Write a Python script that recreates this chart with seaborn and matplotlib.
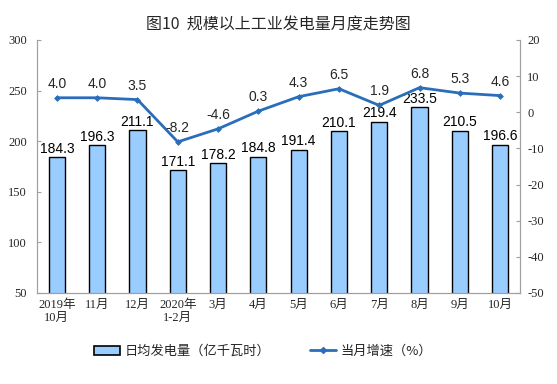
import pandas as pd
import matplotlib.pyplot as plt
import seaborn as sns
from matplotlib.patches import Patch
from matplotlib.lines import Line2D

months = ['2019年\n10月', '11月', '12月', '2020年\n1-2月', '3月', '4月', '5月',
          '6月', '7月', '8月', '9月', '10月']
daily_output = [184.3, 196.3, 211.1, 171.1, 178.2, 184.8, 191.4, 210.1, 219.4, 233.5, 210.5, 196.6]
growth = [4.0, 4.0, 3.5, -8.2, -4.6, 0.3, 4.3, 6.5, 1.9, 6.8, 5.3, 4.6]
left_ticks = [50, 100, 150, 200, 250, 300]
right_ticks = [-50, -40, -30, -20, -10, 0, 10, 20]

bar_color = '#99CCFF'
line_color = '#2A6EBB'

sns.set_style('white')
plt.rcParams['font.family'] = ['Liberation Sans', 'Noto Sans CJK SC']
plt.rcParams['axes.unicode_minus'] = False
cjk = ['Noto Sans CJK SC', 'DejaVu Sans']
serif = ['Liberation Serif', 'Noto Sans CJK SC']

df = pd.DataFrame({'month': months, 'output': daily_output, 'growth': growth})

fig = plt.figure(figsize=(5.57, 3.84), dpi=100)
ax = fig.add_axes([0.066, 0.237, 0.868, 0.659])

sns.barplot(data=df, x='month', y='output', color=bar_color, width=0.4,
            edgecolor='black', linewidth=1.0, saturation=1, ax=ax, zorder=2)
ax.set_ylim(50, 300)
ax.set_yticks(left_ticks)
ax.set_xlabel('')
ax.set_ylabel('')
for c in ax.containers:
    ax.bar_label(c, fmt='%.1f', padding=1, fontsize=10, color='black')

ax2 = ax.twinx()
sns.lineplot(data=df, x='month', y='growth', color=line_color, marker='D',
             markersize=3.5, markeredgewidth=0, linewidth=2, ax=ax2, sort=False, zorder=3)
ax2.set_ylim(-50, 20)
ax2.set_yticks(right_ticks)
ax2.set_ylabel('')
ax2.set_xlabel('')
for i, v in enumerate(growth):
    ax2.annotate(f'{v:.1f}', (i, v), xytext=(0, 5), textcoords='offset points',
                 ha='center', va='bottom', fontsize=10)

for a in (ax, ax2):
    a.spines['top'].set_visible(False)
    for s in ['left', 'right', 'bottom']:
        a.spines[s].set_color('#A0A0A0')
        a.spines[s].set_linewidth(0.8)
ax.tick_params(axis='y', direction='in', length=3, color='#A0A0A0', labelsize=9, pad=7)
ax2.tick_params(axis='y', direction='in', length=3, color='#A0A0A0', labelsize=9, pad=5)
ax.tick_params(axis='x', length=0, labelsize=9, pad=4)
for lbl in ax.get_yticklabels() + ax2.get_yticklabels() + ax.get_xticklabels():
    lbl.set_fontfamily(serif)
ax.set_xlim(-0.5, len(months) - 0.5)

fig.text(0.5, 0.935, '图10  规模以上工业发电量月度走势图', ha='center', va='center',
         fontsize=11.5, family=cjk)

handles = [Patch(facecolor=bar_color, edgecolor='black', linewidth=1.2),
           Line2D([0], [0], color=line_color, marker='D', markersize=3, linewidth=2)]
fig.legend(handles, ['日均发电量（亿千瓦时）', '当月增速（%）'], loc='center',
           bbox_to_anchor=(0.472, 0.085), ncol=2, frameon=False, columnspacing=3.0,
           handlelength=2.0, handletextpad=0.3, prop={'family': cjk, 'size': 9.5})

fig.savefig('out.png', dpi=100)
